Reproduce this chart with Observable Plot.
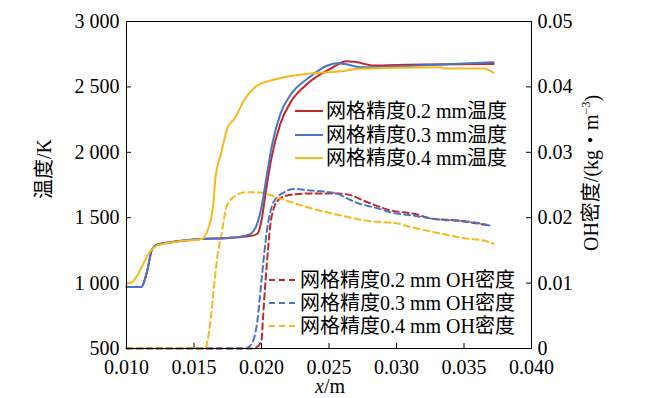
<!DOCTYPE html>
<html><head><meta charset="utf-8">
<script src="https://cdn.jsdelivr.net/npm/d3@7"></script>
<script src="https://cdn.jsdelivr.net/npm/@observablehq/plot@0.6"></script>
<style>
body{margin:0;background:#fff;}
#chart{width:650px;height:398px;}
</style></head><body><div id="chart"></div>
<script>
// ---- tick values ----
const xTicks = [0.010, 0.015, 0.020, 0.025, 0.030, 0.035, 0.040];
const tempTicks = [500, 1000, 1500, 2000, 2500, 3000];
const ohTicks = [0, 0.01, 0.02, 0.03, 0.04, 0.05];

// ---- temperature series (K) ----
const xT02 = [0.0100,0.0111,0.0115,0.0119,0.0122,0.0133,0.0155,0.0175,0.0188,0.0194,0.0197,0.0200,0.0203,0.0207,0.0214,0.0222,0.0234,0.0251,0.0263,0.0270,0.0283,0.0300,0.0320,0.0372];
const T02  = [970,970,1080,1260,1290,1313,1337,1345,1356,1365,1377,1479,1685,1937,2220,2390,2524,2638,2697,2690,2664,2668,2671,2675];
const xT03 = [0.0100,0.0111,0.0115,0.0119,0.0122,0.0133,0.0155,0.0175,0.0186,0.0192,0.0197,0.0200,0.0204,0.0208,0.0214,0.0222,0.0234,0.0249,0.0256,0.0262,0.0273,0.0296,0.0333,0.0372];
const T03  = [970,970,1080,1260,1290,1313,1337,1345,1358,1377,1460,1580,1830,2065,2294,2447,2562,2664,2681,2675,2651,2656,2671,2689];
const xT04 = [0.0100,0.0104,0.0108,0.0113,0.0118,0.0123,0.0130,0.0140,0.0155,0.0157,0.0160,0.0164,0.0166,0.0170,0.0175,0.0180,0.0187,0.0197,0.0212,0.0234,0.0259,0.0271,0.0298,0.0333,0.0335,0.0364,0.0372];
const T04  = [995,1005,1058,1160,1249,1288,1305,1320,1335,1345,1402,1580,1810,1989,2192,2256,2396,2511,2562,2600,2620,2638,2646,2651,2641,2641,2608];

// ---- OH density series (kg/m3) ----
const xO02 = [0.0100,0.0193,0.0197,0.0200,0.0201,0.0203,0.0205,0.0207,0.0212,0.0219,0.0234,0.0256,0.0264,0.0278,0.0296,0.0313,0.0328,0.0345,0.0357,0.0370];
const O02  = [0,0,0.0003,0.0012,0.0043,0.0104,0.0155,0.0196,0.0226,0.0234,0.0237,0.0237,0.02355,0.0224,0.0211,0.0206,0.0198,0.0196,0.0192,0.0188];
const xO03 = [0.0100,0.0188,0.0192,0.0197,0.0200,0.0204,0.0209,0.0217,0.0224,0.0234,0.0256,0.0259,0.0273,0.0283,0.0296,0.0313,0.0333,0.0348,0.0363,0.0371];
const O03  = [0,0,0.0005,0.0043,0.0104,0.018,0.0224,0.0239,0.0244,0.0242,0.0237,0.0234,0.0221,0.0216,0.0208,0.0203,0.0197,0.0195,0.0191,0.0187];
const xO04 = [0.0100,0.0158,0.0162,0.0165,0.0168,0.0170,0.0174,0.0179,0.0189,0.0197,0.0214,0.0234,0.0264,0.0273,0.0290,0.0299,0.0308,0.0323,0.0337,0.0352,0.0365,0.0372];
const O04  = [0,0,0.0038,0.0099,0.015,0.017,0.0216,0.0231,0.0239,0.0239,0.0229,0.0216,0.0201,0.0197,0.0193,0.0192,0.0187,0.018,0.0174,0.0168,0.0165,0.016];

const tempLabels = ["网格精度0.2 mm温度", "网格精度0.3 mm温度", "网格精度0.4 mm温度"];
const ohLabels = ["网格精度0.2 mm OH密度", "网格精度0.3 mm OH密度", "网格精度0.4 mm OH密度"];
const colors = ["#c1272d", "#4a75c5", "#f8b81c"];

// map OH onto the temperature axis (0..0.05 <-> 500..3000)
const ohToT = v => 500 + v / 0.05 * 2500;
const zip = (xs, ys, f = d => d) => xs.map((x, i) => ({x, y: f(ys[i])}));

const tempSeries = [zip(xT02, T02), zip(xT03, T03), zip(xT04, T04)];
const ohSeries = [zip(xO02, O02, ohToT), zip(xO03, O03, ohToT), zip(xO04, O04, ohToT)];

const W = 650, H = 398, mL = 126, mR = 119, mT = 21, mB = 50;
const pw = W - mL - mR, ph = H - mT - mB;
const FONT = "'Liberation Serif','Noto Sans CJK SC',serif";

const fmtTemp = d => d >= 1000 ? d3.format(",")(d).replace(",", " ") : String(d);
const fmtOH = d => { const v = Math.round((d - 500) / 2500 * 0.05 * 1000) / 1000; return v === 0 ? "0" : v.toFixed(2); };

const chart = Plot.plot({
  width: W, height: H,
  marginLeft: mL, marginRight: mR, marginTop: mT, marginBottom: mB,
  style: {fontFamily: FONT, fontSize: "20px", color: "#000", background: "#fff"},
  x: {domain: [0.010, 0.040]},
  y: {domain: [500, 3000]},
  marks: [
    Plot.axisX({ticks: xTicks, tickFormat: d => d.toFixed(3), tickSize: 0, tickPadding: 11, label: null}),
    Plot.axisY({ticks: tempTicks, tickFormat: fmtTemp, tickSize: 0, tickPadding: 7, label: null}),
    Plot.axisY({anchor: "right", ticks: ohTicks.map(ohToT), tickFormat: fmtOH, tickSize: 0, tickPadding: 6, label: null}),
    Plot.tickY(tempTicks, {y: d => d, insetRight: pw - 5, stroke: "#000"}),
    Plot.tickY(ohTicks.map(ohToT), {y: d => d, insetLeft: pw - 5, stroke: "#000"}),
    Plot.tickX(xTicks, {x: d => d, insetTop: ph - 5, stroke: "#000"}),
    ...ohSeries.map((s, i) => Plot.line(s, {x: "x", y: "y", stroke: colors[i], strokeWidth: 2, strokeDasharray: "6,4", curve: "monotone-x"})),
    ...tempSeries.map((s, i) => Plot.line(s, {x: "x", y: "y", stroke: colors[i], strokeWidth: 2, curve: "monotone-x"})),
    Plot.frame({stroke: "#000", strokeWidth: 1})
  ]
});
document.getElementById("chart").appendChild(chart);

const svg = d3.select(chart);
const g = svg.append("g").attr("font-family", FONT).attr("font-size", 20).attr("fill", "#000").attr("text-anchor", "start");

// legend: solid (temperature)
const solidRows = [111, 135, 158];
tempLabels.forEach((t, i) => {
  g.append("line").attr("x1", 295).attr("x2", 323).attr("y1", solidRows[i]).attr("y2", solidRows[i])
    .attr("stroke", colors[i]).attr("stroke-width", 2);
  g.append("text").attr("x", 326).attr("y", solidRows[i]).attr("dy", "0.36em").attr("text-anchor", "start").text(t);
});
// legend: dashed (OH)
const dashRows = [280, 303, 326];
ohLabels.forEach((t, i) => {
  g.append("line").attr("x1", 269).attr("x2", 297).attr("y1", dashRows[i]).attr("y2", dashRows[i])
    .attr("stroke", colors[i]).attr("stroke-width", 2).attr("stroke-dasharray", "6,4");
  g.append("text").attr("x", 300).attr("y", dashRows[i]).attr("dy", "0.36em").attr("text-anchor", "start").text(t);
});

// axis titles
g.append("text").attr("transform", "translate(44,169) rotate(-90)").attr("text-anchor", "middle")
  .attr("dy", "0.35em").text("温度/K");
const rt = g.append("text").attr("transform", "translate(591,173) rotate(-90)").attr("text-anchor", "middle").attr("dy", "0.35em");
rt.append("tspan").text("OH密度/(kg・m");
rt.append("tspan").attr("font-size", 12).attr("dy", "-0.7em").text("−3");
rt.append("tspan").attr("dy", "0.45em").text(")");
const xt = g.append("text").attr("x", 330).attr("y", 393).attr("text-anchor", "middle");
xt.append("tspan").attr("font-style", "italic").text("x");
xt.append("tspan").text("/m");
</script>
</body></html>
